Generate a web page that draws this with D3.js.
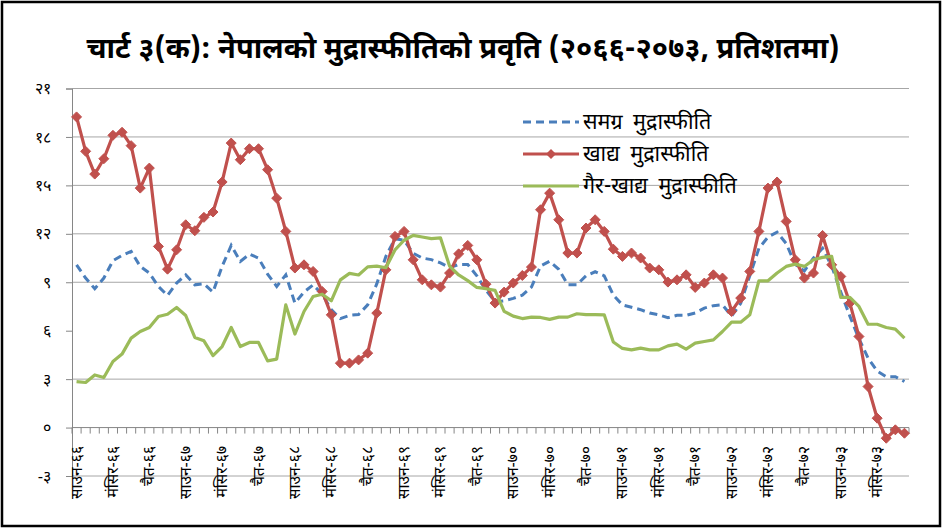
<!DOCTYPE html>
<html><head><meta charset="utf-8">
<script src="https://cdn.jsdelivr.net/npm/d3@7"></script>
<style>
body{margin:0;background:#fff;}
svg{display:block;font-family:"Noto Sans Devanagari","Lohit Devanagari","FreeSans","Noto Sans","DejaVu Sans",sans-serif;}
</style></head><body>
<svg id="chart" width="944" height="530"></svg>
<script>
const title = "चार्ट ३(क): नेपालको मुद्रास्फीतिको प्रवृति (२०६६-२०७३, प्रतिशतमा)";
const monthNames = ["साउन","भदौ","असोज","कात्तिक","मंसिर","पुस","माघ","फागुन","चैत","वैशाख","जेठ","असार"];
const yearLabels = ["६६","६७","६८","६९","७०","७१","७२","७३"];
const seriesNames = ["समग्र मुद्रास्फीति","खाद्य मुद्रास्फीति","गैर-खाद्य मुद्रास्फीति"];

const overall = [10.08,9.26,8.6,9.26,10.33,10.66,10.91,9.98,9.57,8.74,
  8.18,8.95,9.46,8.84,8.9,8.39,9.98,11.28,10.29,10.74,
  10.5,9.5,8.74,9.46,7.71,8.39,8.84,8.26,7.3,6.75,
  6.95,7.0,7.6,8.9,10.6,11.7,11.6,10.8,10.5,10.4,
  10.2,9.9,10.1,10.1,9.4,8.5,7.8,7.85,8.0,8.2,
  8.7,10.0,10.3,9.8,8.85,8.85,9.4,9.65,9.4,8.2,
  7.6,7.45,7.3,7.09,6.98,6.8,6.95,6.95,7.1,7.4,
  7.55,7.6,6.9,7.7,9.4,11.1,11.8,12.1,11.4,10.1,
  9.7,10.5,11.1,10.0,8.4,6.9,5.5,4.3,3.5,3.15,
  3.15,2.85];
const food = [19.24,17.11,15.7,16.65,18.1,18.29,17.46,14.83,16.07,11.22,
  9.81,11.01,12.56,12.19,13.02,13.35,15.21,17.62,16.59,17.27,
  17.27,15.97,14.21,12.15,9.88,10.08,9.67,8.43,6.98,3.99,
  3.99,4.19,4.61,7.09,9.77,11.84,12.15,10.39,9.15,8.84,
  8.7,9.57,10.76,11.28,10.39,8.88,7.71,8.39,8.95,9.42,
  9.94,13.49,14.52,12.87,10.81,10.81,12.36,12.87,12.15,11.05,
  10.6,10.81,10.5,9.88,9.77,9.01,9.15,9.46,8.68,8.95,
  9.46,9.26,7.19,8.02,9.67,12.15,14.83,15.21,12.77,10.39,
  9.26,9.57,11.9,10.08,9.36,7.71,5.64,2.54,0.58,-0.66,
  -0.14,-0.35];
const nonFood = [2.85,2.79,3.26,3.1,4.09,4.55,5.54,5.95,6.2,6.88,
  7.02,7.44,6.94,5.58,5.37,4.46,5.02,6.2,5.02,5.27,
  5.27,4.13,4.24,7.6,5.79,7.19,8.12,8.26,7.85,9.15,
  9.55,9.45,9.95,10.0,9.9,11.0,11.6,11.9,11.8,11.7,
  11.75,10.0,9.45,9.1,8.68,8.6,8.5,7.2,6.9,6.75,
  6.84,6.82,6.7,6.84,6.84,7.05,7.0,7.0,6.98,5.3,
  4.9,4.81,4.92,4.81,4.81,5.06,5.17,4.86,5.23,5.33,
  5.43,5.95,6.53,6.53,6.98,9.09,9.09,9.57,9.98,10.12,
  9.98,10.39,10.54,10.6,8.06,8.06,7.5,6.4,6.4,6.2,
  6.1,5.54];

const yTicks = [-3,0,3,6,9,12,15,18,21];
const yTickLabels = ["-३","०","३","६","९","१२","१५","१८","२१"];
const gridValues = [-3,3,9,12,15,18,21];

// categories: month-year labels
const categories = [];
yearLabels.forEach(yr => monthNames.forEach(m => categories.push(m + "-" + yr)));
categories.length = overall.length;

const colors = ["#4A7EBB", "#C0504D", "#9BBB59"];

const svg = d3.select("#chart");
const plotLeft = 72, plotRight = 909, plotTop = 88.5, plotBottom = 476;

const x = d3.scaleBand().domain(d3.range(categories.length)).range([plotLeft, plotRight]);
const y = d3.scaleLinear().domain([-3, 21]).range([plotBottom, plotTop]);
const cx = i => x(i) + x.bandwidth() / 2;

// frame
svg.append("rect").attr("x", 2).attr("y", 2).attr("width", 938).attr("height", 524)
  .attr("fill", "none").attr("stroke", "#000").attr("stroke-width", 2.5);

// title
svg.append("text").attr("x", 463).attr("y", 58).attr("text-anchor", "middle")
  .attr("font-size", 29).attr("font-weight", "bold").attr("fill", "#000").text(title);

// gridlines
svg.append("g").selectAll("line").data(gridValues).join("line")
  .attr("x1", plotLeft).attr("x2", plotRight).attr("y1", d => y(d)).attr("y2", d => y(d))
  .attr("stroke", "#A6A6A6").attr("stroke-width", 1);

// y axis
const yAxis = d3.axisLeft(y).tickValues(yTicks).tickSize(6)
  .tickFormat((d, i) => yTickLabels[i]);
const gy = svg.append("g").attr("transform", `translate(${plotLeft},0)`).call(yAxis);
gy.select(".domain").attr("stroke", "#868686");
gy.selectAll(".tick line").attr("stroke", "#868686");
gy.selectAll(".tick text").attr("font-size", 16).attr("fill", "#000").attr("x", -21)
  .attr("font-family", "inherit");

// x axis at y=0
const gx = svg.append("g").attr("transform", `translate(0,${y(0)})`);
gx.append("line").attr("x1", plotLeft).attr("x2", plotRight).attr("stroke", "#868686");
const bounds = d3.range(categories.length + 1).map(i => i === categories.length ? plotRight : x(i));
gx.selectAll("line.tk").data(bounds).join("line").attr("class", "tk")
  .attr("x1", d => d).attr("x2", d => d).attr("y1", 0).attr("y2", 6).attr("stroke", "#868686");

// x labels (every 4th) rotated, at bottom
const labelIdx = d3.range(0, categories.length, 4);
svg.append("g").selectAll("text").data(labelIdx).join("text")
  .attr("transform", i => `translate(${cx(i) + 5},446) rotate(-90)`)
  .attr("text-anchor", "end").attr("font-size", 15.5).attr("fill", "#000")
  .text(i => categories[i]);

// lines
const line = d3.line().x((d, i) => cx(i)).y(d => y(d));
svg.append("path").datum(overall).attr("d", line).attr("fill", "none")
  .attr("stroke", colors[0]).attr("stroke-width", 3).attr("stroke-dasharray", "8,5");
svg.append("path").datum(food).attr("d", line).attr("fill", "none")
  .attr("stroke", colors[1]).attr("stroke-width", 3.2).attr("stroke-linejoin", "round");
const diamond = "M0,-5L5,0L0,5L-5,0Z";
svg.append("g").selectAll("path").data(food).join("path")
  .attr("d", diamond).attr("transform", (d, i) => `translate(${cx(i)},${y(d)})`)
  .attr("fill", colors[1]).attr("stroke", colors[1]).attr("stroke-width", 1);
svg.append("path").datum(nonFood).attr("d", line).attr("fill", "none")
  .attr("stroke", colors[2]).attr("stroke-width", 3.2).attr("stroke-linejoin", "round");

// legend
const lg = svg.append("g");
const rows = [122, 154, 186];
seriesNames.forEach((name, k) => {
  const ly = rows[k];
  lg.append("line").attr("x1", 523).attr("x2", 579).attr("y1", ly).attr("y2", ly)
    .attr("stroke", colors[k]).attr("stroke-width", 3)
    .attr("stroke-dasharray", k === 0 ? "8,5" : null);
  if (k === 1) lg.append("path").attr("d", diamond).attr("transform", `translate(551,${ly})`)
    .attr("fill", colors[1]);
  lg.append("text").attr("x", 583).attr("y", ly + 7).attr("font-size", 21.5)
    .attr("word-spacing", 5).attr("fill", "#000").text(name);
});
</script>
</body></html>
